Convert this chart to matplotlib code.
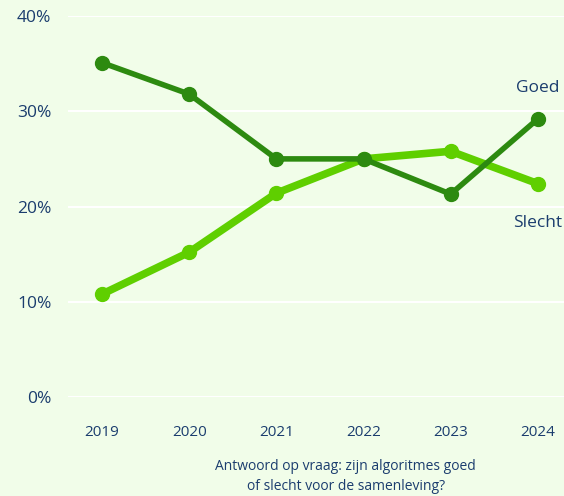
import matplotlib.pyplot as plt

years = ["2019", "2020", "2021", "2022", "2023", "2024"]
goed = [35.1, 31.8, 25.0, 25.0, 21.3, 29.2]
slecht = [10.8, 15.2, 21.4, 25.0, 25.8, 22.4]
yticks = [0, 10, 20, 30, 40]

bg = "#f1fde9"
navy = "#1b3d6e"
dark_green = "#2d8a10"
light_green = "#5fcf00"

plt.rcParams['font.family'] = ['Open Sans', 'DejaVu Sans']

fig = plt.figure(figsize=(5.64, 4.96), dpi=100, facecolor=bg)
ax = fig.add_axes([0.1206, 0.1996, 0.8794, 0.7681], facecolor=bg)

x = list(range(len(years)))
ax.plot(x, goed, color=dark_green, lw=4.0, marker="o", ms=10, clip_on=False, zorder=3)
ax.plot(x, slecht, color=light_green, lw=5.5, marker="o", ms=10, clip_on=False, zorder=2)

ax.set_xlim(-0.39, 5.3)
ax.set_ylim(0, 40)
ax.set_yticks(yticks)
ax.set_yticklabels([f"{v}%" for v in yticks])
ax.set_xticks(x)
ax.set_xticklabels(years)
ax.grid(axis="y", color="white", lw=1.5)
ax.set_axisbelow(True)
for s in ax.spines.values():
    s.set_visible(False)
ax.tick_params(axis="y", length=0, pad=12, labelsize=12.5, labelcolor=navy)
ax.tick_params(axis="x", length=0, pad=20, labelsize=11, labelcolor=navy)

ax.text(5.0, 32.4, "Goed", color=navy, fontsize=12.5, ha="center", va="center")
ax.text(5.0, 18.3, "Slecht", color=navy, fontsize=12.5, ha="center", va="center")

fig.text(0.613, 0.039, "Antwoord op vraag: zijn algoritmes goed\nof slecht voor de samenleving?",
         color=navy, fontsize=10, ha="center", va="center", linespacing=1.5)

fig.savefig("out.png", dpi=100, facecolor=bg)
